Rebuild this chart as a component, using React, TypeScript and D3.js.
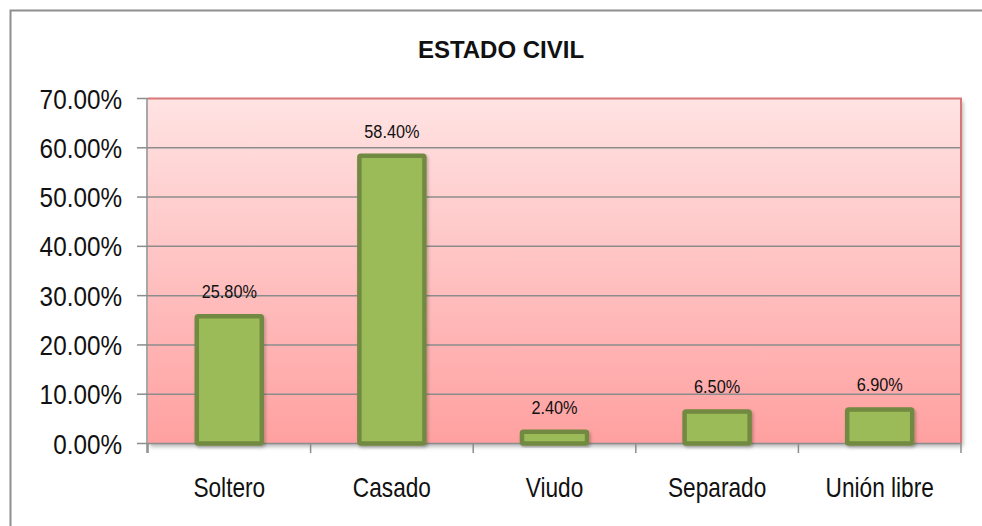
import React from "react";
import * as d3 from "d3";

const categories = ["Soltero", "Casado", "Viudo", "Separado", "Unión libre"];
const values = [25.8, 58.4, 2.4, 6.5, 6.9];
const yTicks = [0, 10, 20, 30, 40, 50, 60, 70];
const title = "ESTADO CIVIL";

const W = 982;
const H = 526;
const plot = { left: 148, right: 961, top: 98.5, bottom: 443.5 };
const FONT = "'Liberation Sans', Arial, sans-serif";

function SText({ x, y, size, anchor, children, sx }: any) {
  return (
    <g transform={`translate(${x},${y}) scale(${sx},1)`}>
      <text x={0} y={0} fontSize={size} textAnchor={anchor} fontFamily={FONT} fill="#111">
        {children}
      </text>
    </g>
  );
}

export default function App() {
  const x = d3
    .scaleBand<string>()
    .domain(categories)
    .range([plot.left, plot.right])
    .paddingInner(0.6)
    .paddingOuter(0.3);
  const y = d3.scaleLinear().domain([0, 70]).range([plot.bottom, plot.top]);
  const step = x.step();
  const boundaries = d3.range(categories.length + 1).map((i) => plot.left + i * step);

  return (
    <svg width={W} height={H} style={{ position: "absolute", left: 0, top: 0 }}>
      <defs>
        <linearGradient id="bg" x1="0" y1="0" x2="0" y2="1">
          <stop offset="0%" stopColor="#FFE3E3" />
          <stop offset="100%" stopColor="#FFA0A0" />
        </linearGradient>
        <filter id="shadow" x="-5%" y="-5%" width="115%" height="120%">
          <feDropShadow dx="2" dy="3" stdDeviation="2" floodColor="#000" floodOpacity="0.3" />
        </filter>
        <filter id="bshadow" x="-20%" y="-20%" width="150%" height="150%">
          <feDropShadow dx="1.5" dy="2" stdDeviation="1.5" floodColor="#000" floodOpacity="0.25" />
        </filter>
      </defs>
      <rect x={0} y={0} width={W} height={H} fill="#fff" />
      <rect x={10.5} y={10.5} width={1100} height={700} fill="none" stroke="#8e8e8e" strokeWidth={2} />

      <text x={501} y={58} textAnchor="middle" fontFamily={FONT} fontWeight="bold" fontSize={24} fill="#111">
        {title}
      </text>

      <rect
        x={plot.left}
        y={plot.top}
        width={plot.right - plot.left}
        height={plot.bottom - plot.top}
        fill="url(#bg)"
        filter="url(#shadow)"
      />

      {yTicks
        .filter((t) => t > 0 && t < 70)
        .map((t) => (
          <line key={"g" + t} x1={plot.left} x2={plot.right} y1={y(t)} y2={y(t)} stroke="#8c8c8c" strokeWidth={1.5} />
        ))}

      <path
        d={`M${plot.left},${plot.top}H${plot.right}V${plot.bottom}`}
        fill="none"
        stroke="#D97777"
        strokeWidth={2}
      />

      <line x1={147} x2={147} y1={plot.top} y2={453} stroke="#8c8c8c" strokeWidth={1.5} />
      {yTicks.map((t) => (
        <g key={"t" + t}>
          <line x1={137} x2={148} y1={y(t)} y2={y(t)} stroke="#8c8c8c" strokeWidth={1.5} />
          <SText x={122} y={y(t) + 10} size={27} anchor="end" sx={0.9}>
            {t.toFixed(2) + "%"}
          </SText>
        </g>
      ))}

      <line x1={plot.left} x2={plot.right} y1={plot.bottom} y2={plot.bottom} stroke="#8c8c8c" strokeWidth={1.5} />
      {boundaries.map((b, i) => (
        <line key={"b" + i} x1={b} x2={b} y1={plot.bottom} y2={453} stroke="#8c8c8c" strokeWidth={1.5} />
      ))}

      {categories.map((c, i) => (
        <rect
          key={"bar" + c}
          x={x(c)!}
          y={y(values[i])}
          width={x.bandwidth()}
          height={plot.bottom - y(values[i])}
          fill="#9BBB59"
          stroke="#71893F"
          strokeWidth={4.5}
          rx={1.5}
          filter="url(#bshadow)"
        />
      ))}

      {categories.map((c, i) => (
        <SText key={"dl" + c} x={x(c)! + x.bandwidth() / 2} y={y(values[i]) - 18} size={18.5} anchor="middle" sx={0.88}>
          {values[i].toFixed(2) + "%"}
        </SText>
      ))}

      {categories.map((c) => (
        <SText key={"cl" + c} x={x(c)! + x.bandwidth() / 2} y={497} size={27} anchor="middle" sx={0.84}>
          {c}
        </SText>
      ))}
    </svg>
  );
}
